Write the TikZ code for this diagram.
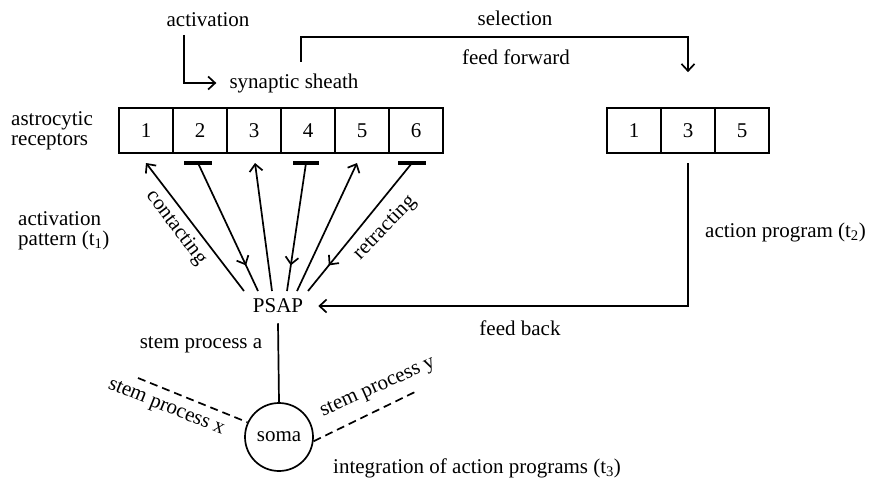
\documentclass[tikz,border=0pt]{standalone}
\usepackage{fontspec}
\setmainfont{Liberation Serif}
\usetikzlibrary{arrows.meta,decorations.markings}
\begin{document}
\begin{tikzpicture}[x=1pt,y=-1pt,
  every node/.style={font=\fontsize{21}{20}\selectfont, inner sep=0pt},
  cell/.style={draw, line width=1.7pt, minimum width=54pt, minimum height=45pt},
  conn/.style={line width=1.7pt},
  arr/.style={conn, -{Straight Barb[length=7pt,width=13pt,line width=1.7pt]}},
  barcap/.style={line width=3.5pt},
  midarr/.style={conn, postaction={decorate},
    decoration={markings, mark=at position 0.8 with {\arrow{Straight Barb[length=7pt,width=13pt,line width=1.7pt]}}}},
  dashedline/.style={line width=1.7pt, dash pattern=on 8pt off 5pt},
  multi/.style={align=left, anchor=west}
]
\useasboundingbox (0,0) rectangle (869,484);

% top labels
\node (act) at (208,20) {activation};
\node (sel) at (515,18) {selection};
\node (ffw) at (516,57) {feed forward};
\node (sheath) at (294,83) {synaptic sheath};

% left cells
\foreach \i/\t [count=\k] in {146/1,200/2,254/3,308/4,362/5,416/6}
  \node[cell] (c\k) at (\i,130.5) {\t};
% right cells
\node[cell] (r1) at (634,130.5) {1};
\node[cell] (r2) at (688,130.5) {3};
\node[cell] (r3) at (742,130.5) {5};

% side labels
\node[multi] (astro) at (11,131) {astrocytic\\receptors};
\node[multi] (apat) at (18,231) {activation\\pattern (t\textsubscript{1})};
\node[anchor=west] (aprog) at (705,232) {action program (t\textsubscript{2})};

% PSAP and soma
\node (psap) at (278,306) {PSAP};
\node (fb) at (520,328) {feed back};
\node (spa) at (201,345) {stem process a};
\node[draw, circle, line width=1.7pt, minimum size=68pt] (soma) at (279,437) {soma};
\node[anchor=west] (integ) at (333,468) {integration of action programs (t\textsubscript{3})};

% activation arrow
\coordinate (a0) at (184,35);
\draw[arr] (a0) |- ([xshift=-13pt]sheath.west);

% feed forward / selection connector
\coordinate (ff0) at (301,62);
\draw[arr] (ff0) -- (301,37) -| ([yshift=35pt]r2.north);

% feedback connector
\coordinate (fb0) at (688,163);
\draw[arr] (fb0) |- ([xshift=15pt]psap.east);

% fan connectors
\coordinate (t1) at (146,163);
\coordinate (t2) at (198,163);
\coordinate (t3) at (255,163);
\coordinate (t4) at (306,163);
\coordinate (t5) at (357,163);
\coordinate (t6) at (412,163);
\coordinate (p1) at (244,291);
\coordinate (p2) at (258,291);
\coordinate (p3) at (272,291);
\coordinate (p4) at (287,291);
\coordinate (p5) at (297,291);
\coordinate (p6) at (308,291);

\draw[arr] (p1) -- (t1);
\draw[midarr] (t2) -- (p2);
\draw[arr] (p3) -- (t3);
\draw[midarr] (t4) -- (p4);
\draw[arr] (p5) -- (t5);
\draw[midarr] (t6) -- (p6);

\draw[barcap] ([xshift=-14pt]t2) -- ([xshift=14pt]t2);
\draw[barcap] ([xshift=-13pt]t4) -- ([xshift=13pt]t4);
\draw[barcap] ([xshift=-14pt]t6) -- ([xshift=14pt]t6);

\node[rotate=-53] (cont) at (176,228) {contacting};
\node[rotate=46] (retr) at (385,228) {retracting};

% stem processes
\draw[conn] ([yshift=-10pt]psap.south) -- (soma.north);
\coordinate (sx) at (138,378);
\coordinate (sy) at (417,391);
\draw[dashedline] (sx) -- (soma.155);
\draw[dashedline] (soma.-7) -- (sy);
\node[rotate=-22] (spx) at (166,408) {stem process x};
\node[rotate=24] (spy) at (378,388) {stem process y};
\end{tikzpicture}
\end{document}
